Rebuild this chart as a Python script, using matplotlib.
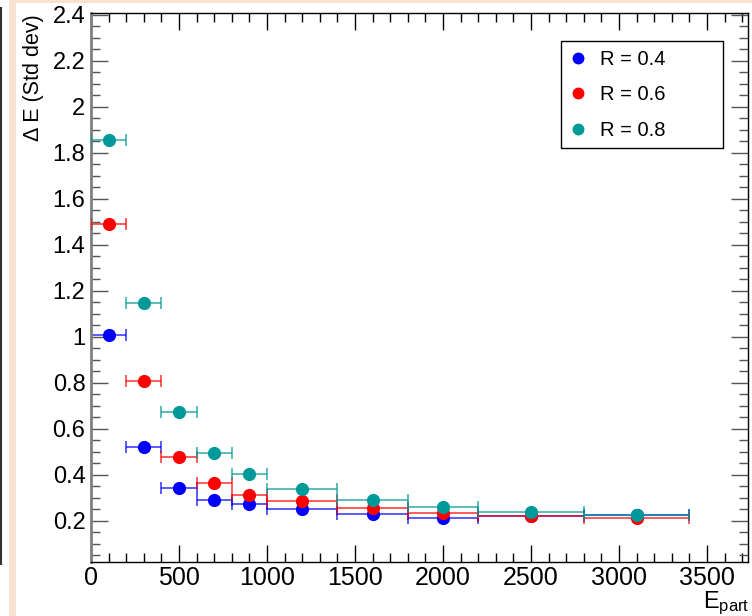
import matplotlib
matplotlib.use("Agg")
import matplotlib.pyplot as plt
from matplotlib.patches import Rectangle
from matplotlib.lines import Line2D
from matplotlib.ticker import MultipleLocator

plt.rcParams['font.family'] = ['Liberation Sans', 'DejaVu Sans']
plt.rcParams['mathtext.fontset'] = 'custom'
plt.rcParams['mathtext.rm'] = 'Liberation Sans'
plt.rcParams['mathtext.it'] = 'Liberation Sans'

# ---- data ----
e_part = [100, 300, 500, 700, 900, 1200, 1600, 2000, 2500, 3100]
e_half_width = [100, 100, 100, 100, 100, 200, 200, 200, 300, 300]
std_r04 = [1.007, 0.520, 0.343, 0.290, 0.272, 0.251, 0.227, 0.212, 0.221, 0.225]
std_r06 = [1.489, 0.807, 0.475, 0.363, 0.313, 0.287, 0.257, 0.233, 0.221, 0.210]
std_r08 = [1.855, 1.145, 0.671, 0.493, 0.405, 0.338, 0.288, 0.260, 0.238, 0.225]
series_labels = ["R = 0.4", "R = 0.6", "R = 0.8"]
series_colors = ["#0000ff", "#ff0000", "#009999"]
x_ticks = [0, 500, 1000, 1500, 2000, 2500, 3000, 3500]
y_ticks = [0.2, 0.4, 0.6, 0.8, 1.0, 1.2, 1.4, 1.6, 1.8, 2.0, 2.2, 2.4]
y_tick_labels = ["0.2", "0.4", "0.6", "0.8", "1", "1.2", "1.4", "1.6", "1.8", "2", "2.2", "2.4"]

W, H = 752, 616
fig = plt.figure(figsize=(W / 100, H / 100), dpi=100)

# screenshot decorations (border strips)
fig.patches.append(Rectangle((9 / W, 0), 7 / W, 1, transform=fig.transFigure,
                             facecolor="#f8e3d3", edgecolor="none", zorder=0))
fig.patches.append(Rectangle((16 / W, 1 - 3 / H), 1 - 16 / W, 3 / H, transform=fig.transFigure,
                             facecolor="#f8e3d3", edgecolor="none", zorder=0))
fig.lines.append(Line2D([1.5 / W, 1.5 / W], [1 - 8 / H, 1 - 564 / H], transform=fig.transFigure,
                        color="#333333", lw=1.5))

ax = fig.add_axes([91 / W, 1 - 562 / H, (748 - 91) / W, (562 - 13) / H])
ax.set_xlim(0, 3733)
ax.set_ylim(0.0204, 2.407)

all_series = [std_r04, std_r06, std_r08]
for i, (vals, lab, col) in enumerate(zip(all_series, series_labels, series_colors)):
    ax.errorbar(e_part, vals, xerr=e_half_width, fmt="none", ecolor=col, elinewidth=1.2,
                capsize=4, capthick=1.2, alpha=0.75, zorder=2 + i)
    ax.plot(e_part, vals, "o", color=col, markersize=9.5, markeredgewidth=0,
            label=lab, zorder=5 + i)

ax.set_xticks(x_ticks)
ax.set_yticks(y_ticks)
ax.set_yticklabels(y_tick_labels)
ax.xaxis.set_minor_locator(MultipleLocator(100))
ax.yaxis.set_minor_locator(MultipleLocator(0.05))
ax.tick_params(axis="both", which="both", direction="in", top=True, right=True)
ax.tick_params(axis="x", labelsize=18)
ax.tick_params(axis="y", labelsize=17)
ax.tick_params(axis="both", which="major", length=12.5, width=1)
ax.tick_params(axis="both", which="minor", length=6.5, width=1)
ax.tick_params(axis="x", which="major", pad=3)
ax.tick_params(axis="y", which="major", pad=4)
ax.tick_params(axis="y", which="both", color="#555555")
for s in ["top", "right", "bottom"]:
    ax.spines[s].set_linewidth(1)
    ax.spines[s].set_color("black")
ax.spines["left"].set_linewidth(2)
ax.spines["left"].set_color("#808080")

# axis titles (ROOT style, placed at the end of the axes)
fig.text(33 / W, 1 - 14 / H, "\u0394 E (Std dev)", rotation=90, ha="center", va="top",
         fontsize=15.5)
fig.text(749 / W, 1 - 608 / H, r"$\mathregular{E_{part}}$", ha="right", va="baseline",
         fontsize=17)

leg = ax.legend(loc="upper left",
                bbox_to_anchor=(561 / W, 1 - 42 / H, (723 - 561) / W, 0.001),
                bbox_transform=fig.transFigure, mode="expand",
                fancybox=False, framealpha=1, edgecolor="black", fontsize=14.5,
                handlelength=0.8, handletextpad=0.7, labelspacing=0.82,
                borderpad=0.42, borderaxespad=0, markerscale=0.9)
leg.get_frame().set_linewidth(1)

fig.savefig("out.png", dpi=100)
